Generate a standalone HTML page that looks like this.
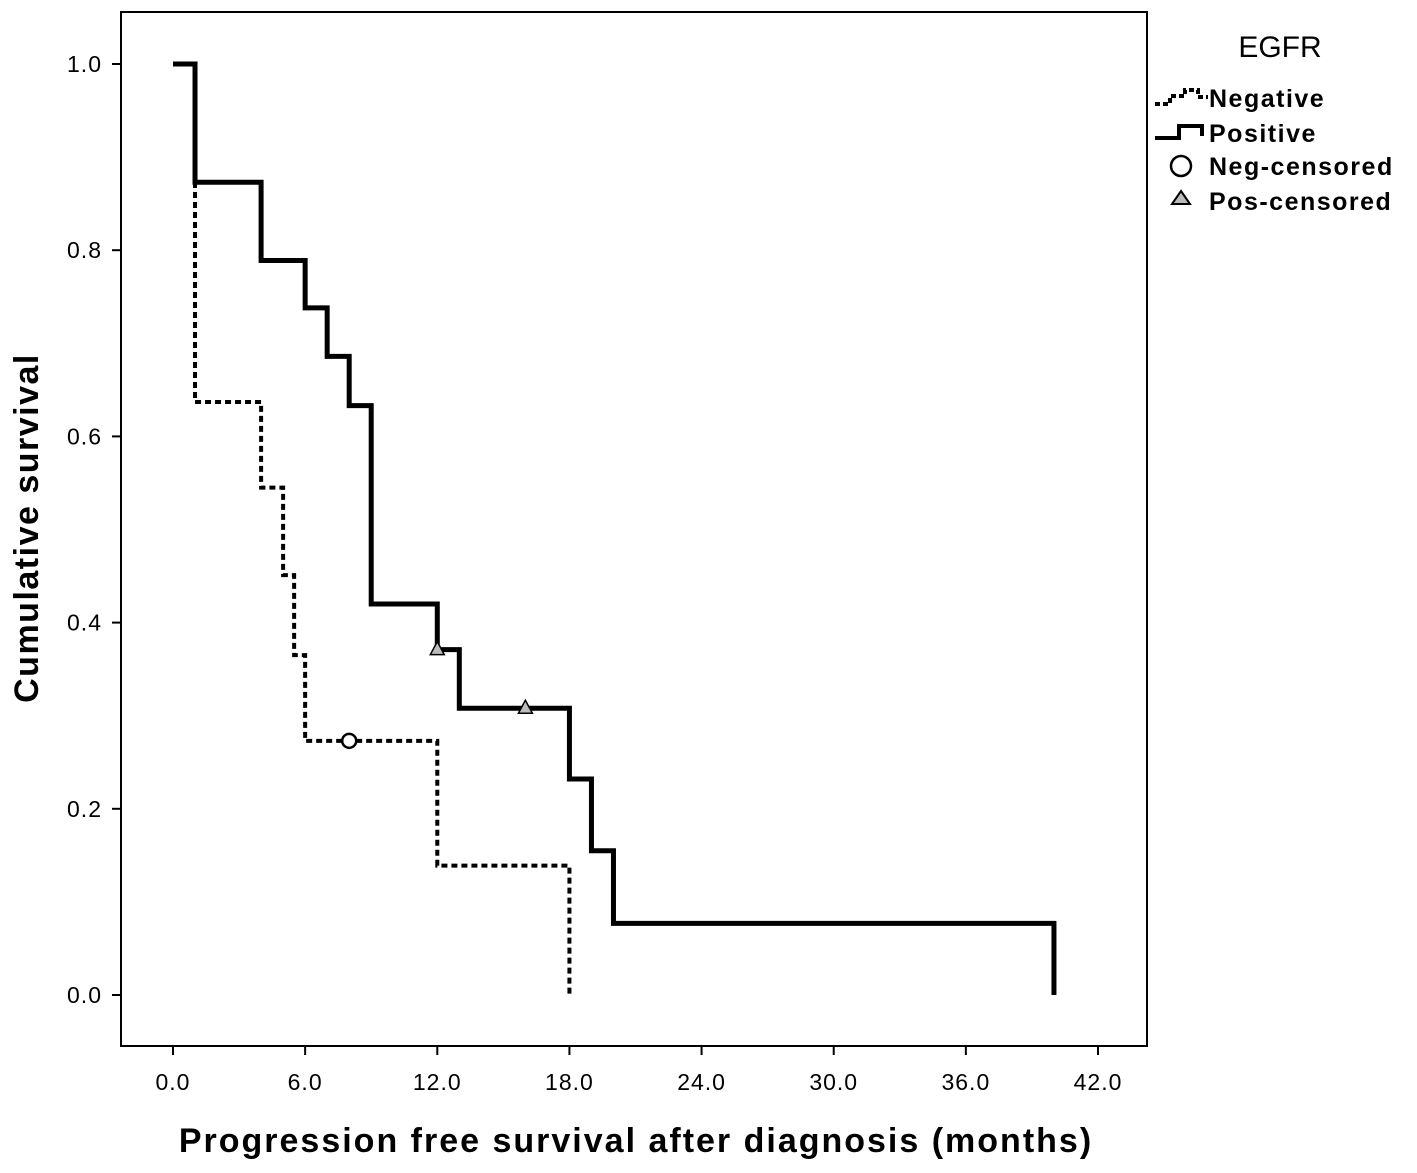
<!DOCTYPE html>
<html><head><meta charset="utf-8"><style>
html,body{margin:0;padding:0;background:#fff;width:1417px;height:1173px;overflow:hidden}
svg{display:block}
text{font-family:"Liberation Sans",sans-serif;fill:#000}
</style></head><body>
<svg id="chart" width="1417" height="1173" xmlns="http://www.w3.org/2000/svg">
<rect x="121" y="12" width="1026" height="1034" fill="#fff" stroke="#000" stroke-width="2"/>
<g id="axes"></g>
<g id="series"></g>
<text x="38" y="528" font-size="34" font-weight="bold" letter-spacing="1.5" text-anchor="middle" transform="rotate(-90 38 528)">Cumulative survival</text>
<text x="636" y="1152" font-size="34" font-weight="bold" letter-spacing="2" text-anchor="middle">Progression free survival after diagnosis (months)</text>
<g>
<text x="1280" y="57" font-size="30" text-anchor="middle">EGFR</text>
<g>
<path d="M1155 104 H1170 V96 H1185 V90 H1198 V97 H1208" fill="none" stroke="#000" stroke-width="4" stroke-dasharray="5,3"/>
<text x="1209" y="107" font-size="25" font-weight="bold" letter-spacing="1.5">Negative</text></g>
<g>
<path d="M1155 138 H1179 V126 H1202 V136" fill="none" stroke="#000" stroke-width="4"/>
<text x="1209" y="142" font-size="25" font-weight="bold" letter-spacing="1.5">Positive</text></g>
<g>
<circle cx="1181" cy="166" r="10" fill="#fff" stroke="#000" stroke-width="2.5"/>
<text x="1209" y="175" font-size="25" font-weight="bold" letter-spacing="1.5">Neg-censored</text></g>
<g>
<path d="M1181 191 L1190 204 L1172 204 Z" fill="#bbb" stroke="#000" stroke-width="2"/>
<text x="1209" y="210" font-size="25" font-weight="bold" letter-spacing="1.5">Pos-censored</text></g>
</g>
</svg>
<script>
const xTicks=[0,6,12,18,24,30,36,42];
const yTicks=[0,0.2,0.4,0.6,0.8,1.0];
const posTimes=[0,1,4,6,7,8,9,12,13,18,19,20,40];
const posSurv=[1.0,0.873,0.789,0.738,0.686,0.633,0.420,0.371,0.308,0.232,0.155,0.077,0];
const negTimes=[0,1,4,5,5.5,6,12,18];
const negSurv=[1.0,0.637,0.545,0.451,0.365,0.273,0.139,0];
const posCensorT=[12,16];
const posCensorS=[0.371,0.308];
const negCensorT=[8];
const negCensorS=[0.273];
const NS="http://www.w3.org/2000/svg";
const X=t=>173+t*(1098-173)/42;
const Y=s=>995-s*931;
const axes=document.getElementById('axes'),ser=document.getElementById('series');
function mk(tag,at,parent){const e=document.createElementNS(NS,tag);for(const k in at)e.setAttribute(k,at[k]);parent.appendChild(e);return e;}
xTicks.forEach(v=>{
 const l=mk('line',{x1:X(v),x2:X(v),y1:1046,y2:1055,stroke:'#000','stroke-width':2},axes);
 
 
 const t=mk('text',{x:X(v),y:1090,'font-size':23,'letter-spacing':1,'text-anchor':'middle'},axes);t.textContent=v.toFixed(1);
 
 
});
yTicks.forEach(v=>{
 const l=mk('line',{x1:112,x2:121,y1:Y(v),y2:Y(v),stroke:'#000','stroke-width':2},axes);
 
 
 const t=mk('text',{x:102,y:Y(v)+8,'font-size':23,'letter-spacing':1,'text-anchor':'end'},axes);t.textContent=v.toFixed(1);
 
 
});
function step(times,surv){let d='M'+X(times[0])+' '+Y(surv[0]);for(let i=1;i<times.length;i++){d+=' H'+X(times[i])+' V'+Y(surv[i]);}return d;}
const neg=mk('path',{d:step(negTimes,negSurv),fill:'none',stroke:'#000','stroke-width':4,'stroke-dasharray':'6,4'},ser);


const pos=mk('path',{d:step(posTimes,posSurv),fill:'none',stroke:'#000','stroke-width':5},ser);


negCensorT.forEach((t,i)=>{const c=mk('circle',{cx:X(t),cy:Y(negCensorS[i]),r:7,fill:'#fff',stroke:'#000','stroke-width':2.5},ser);
 
 });
posCensorT.forEach((t,i)=>{const x=X(t),y=Y(posCensorS[i]);const p=mk('path',{d:`M${x} ${y-8} L${x+7} ${y+5} L${x-7} ${y+5} Z`,fill:'#bbb',stroke:'#000','stroke-width':1.5},ser);
 
 });
</script>
</body></html>
